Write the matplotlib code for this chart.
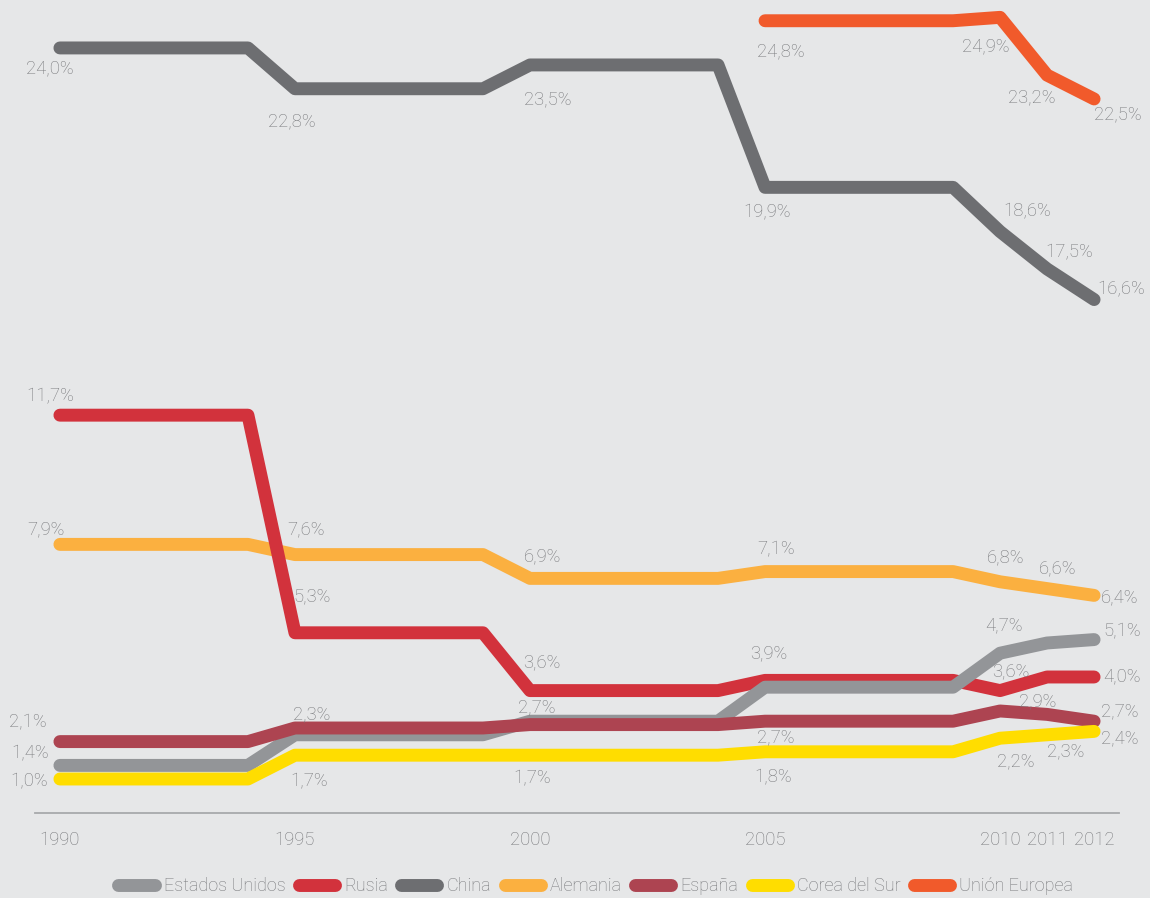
import numpy as np
import matplotlib
matplotlib.use("Agg")
import matplotlib.pyplot as plt

plt.rcParams['font.family'] = ['Roboto', 'DejaVu Sans']
plt.rcParams['font.weight'] = 'light'

years = list(range(1990, 2013))

estados_unidos = [1.4, 1.4, 1.4, 1.4, 1.4, 2.3, 2.3, 2.3, 2.3, 2.3, 2.7, 2.7, 2.7, 2.7, 2.7,
                  3.7, 3.7, 3.7, 3.7, 3.7, 4.7, 5.0, 5.1]
rusia = [11.7, 11.7, 11.7, 11.7, 11.7, 5.3, 5.3, 5.3, 5.3, 5.3, 3.6, 3.6, 3.6, 3.6, 3.6,
         3.9, 3.9, 3.9, 3.9, 3.9, 3.6, 4.0, 4.0]
china = [24.0, 24.0, 24.0, 24.0, 24.0, 22.8, 22.8, 22.8, 22.8, 22.8, 23.5, 23.5, 23.5, 23.5, 23.5,
         19.9, 19.9, 19.9, 19.9, 19.9, 18.6, 17.5, 16.6]
alemania = [7.9, 7.9, 7.9, 7.9, 7.9, 7.6, 7.6, 7.6, 7.6, 7.6, 6.9, 6.9, 6.9, 6.9, 6.9,
            7.1, 7.1, 7.1, 7.1, 7.1, 6.8, 6.6, 6.4]
espana = [2.1, 2.1, 2.1, 2.1, 2.1, 2.5, 2.5, 2.5, 2.5, 2.5, 2.6, 2.6, 2.6, 2.6, 2.6,
          2.7, 2.7, 2.7, 2.7, 2.7, 3.0, 2.9, 2.7]
corea = [1.0, 1.0, 1.0, 1.0, 1.0, 1.7, 1.7, 1.7, 1.7, 1.7, 1.7, 1.7, 1.7, 1.7, 1.7,
         1.8, 1.8, 1.8, 1.8, 1.8, 2.2, 2.3, 2.4]
union_europea = [None] * 15 + [24.8, 24.8, 24.8, 24.8, 24.8, 24.9, 23.2, 22.5]

tick_years = [1990, 1995, 2000, 2005, 2010, 2011, 2012]

series = [
    ("Estados Unidos", estados_unidos, "#939598", 3),
    ("Rusia", rusia, "#d2323c", 2),
    ("China", china, "#6d6e71", 2),
    ("Alemania", alemania, "#fbb040", 1),
    ("España", espana, "#ad4451", 4),
    ("Corea del Sur", corea, "#ffdd00", 5),
    ("Unión Europea", union_europea, "#f15a2b", 2),
]

# which points get a value label, and where the text sits (pixel offsets)
label_spots = {
    "China": [(1990, -10, -20), (1995, -3, -33), (2000, 18, -34), (2005, 2, -25),
              (2010, 27, 20), (2011, 22, 17), (2012, 27, 10)],
    "Unión Europea": [(2005, 16, -31), (2010, -14, -29), (2011, -15, -22), (2012, 24, -15)],
    "Rusia": [(1990, -10, 19), (1995, 17, 37), (2000, 12, 28), (2005, 4, 27),
              (2010, 11, 19), (2012, 28, 1)],
    "Alemania": [(1990, -14, 15), (1995, 11, 25), (2000, 13, 22), (2005, 11, 22),
                 (2010, 6, 25), (2011, 11, 20), (2012, 26, -2)],
    "Estados Unidos": [(1990, -30, 12), (1995, 17, 21), (2000, 7, 14), (2010, 4, 28),
                       (2012, 28, 8)],
    "España": [(1990, -32, 19), (2005, 11, -16), (2011, -9, 13), (2012, 26, 10)],
    "Corea del Sur": [(1990, -31, -2), (1995, 14, -26), (2000, 2, -23), (2005, 8, -25),
                      (2010, 16, -23), (2011, 19, -16), (2012, 26, -7)],
}


# the upper group of lines sits a bit lower than a plain linear axis would put it
def squeeze(v):
    v = np.asarray(v, dtype=float)
    return np.where(v <= 12, v, np.where(v >= 16, v - 1.5, 12 + (v - 12) * 2.5 / 4))


def unsqueeze(t):
    t = np.asarray(t, dtype=float)
    return np.where(t <= 12, t, np.where(t >= 14.5, t + 1.5, 12 + (t - 12) * 4 / 2.5))


bg = "#e6e7e8"
text_col = "#77787b"

fig = plt.figure(figsize=(11.5, 8.98), dpi=100, facecolor=bg)
ax = fig.add_axes([35 / 1150, 85 / 898, 1084 / 1150, 813 / 898])
ax.set_facecolor(bg)
ax.set_yscale('function', functions=(squeeze, unsqueeze))

lines = {}
for name, vals, col, z in series:
    y = np.array([np.nan if v is None else v for v in vals])
    ln, = ax.plot(years, y, color=col, lw=9.3, solid_capstyle='round',
                  solid_joinstyle='round', zorder=z, clip_on=False, label=name)
    lines[name] = ln
    for yr, dx, dy in label_spots[name]:
        v = vals[years.index(yr)]
        ax.annotate(f"{v:.1f}".replace('.', ',') + '%', (yr, v),
                    xytext=(dx, dy), textcoords='offset pixels',
                    ha='center', va='center', fontsize=13.3, color=text_col,
                    annotation_clip=False, zorder=10)

ax.set_xlim(1989.47, 2012.53)
ax.set_ylim(0, 25.41)
ax.set_yticks([])
ax.set_xticks(tick_years)
ax.set_xticklabels([str(t) for t in tick_years])
ax.tick_params(axis='x', length=0, pad=13, labelsize=13.3, labelcolor=text_col)
for s in ['left', 'right', 'top']:
    ax.spines[s].set_visible(False)
ax.spines['bottom'].set_color("#a7a9ac")
ax.spines['bottom'].set_linewidth(1.3)
ax.minorticks_off()

fig.legend([lines[n] for n, *_ in series], [n for n, *_ in series],
           loc='center', bbox_to_anchor=(0.518, 1 - 886 / 898), ncol=7,
           frameon=False, handlelength=2.0, handletextpad=0.5, columnspacing=0.75,
           fontsize=13, labelcolor=text_col)

fig.savefig("out.png", dpi=100, facecolor=bg)
